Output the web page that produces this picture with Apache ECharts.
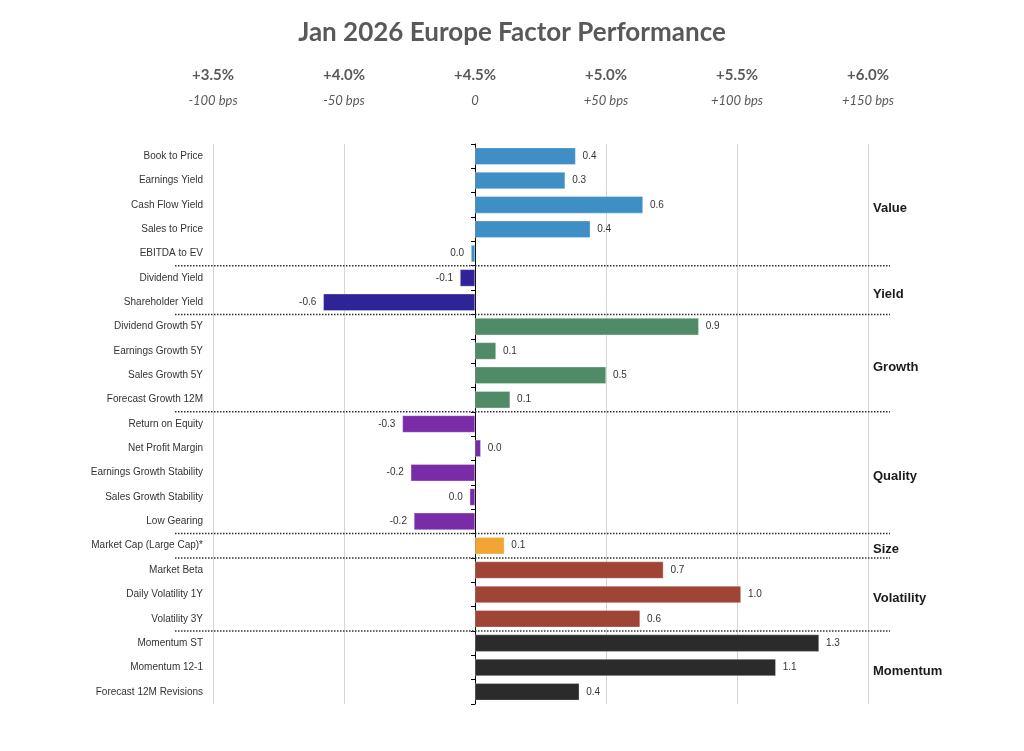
<!DOCTYPE html>
<html>
<head>
<meta charset="utf-8">
<script src="https://cdn.jsdelivr.net/npm/echarts@6/dist/echarts.min.js"></script>
<style>html,body{margin:0;padding:0;background:#fff;}#chart{width:1024px;height:751px;}</style>
</head>
<body>
<div id="chart"></div>
<script>
var categories = ["Book to Price","Earnings Yield","Cash Flow Yield","Sales to Price","EBITDA to EV",
  "Dividend Yield","Shareholder Yield",
  "Dividend Growth 5Y","Earnings Growth 5Y","Sales Growth 5Y","Forecast Growth 12M",
  "Return on Equity","Net Profit Margin","Earnings Growth Stability","Sales Growth Stability","Low Gearing",
  "Market Cap (Large Cap)*",
  "Market Beta","Daily Volatility 1Y","Volatility 3Y",
  "Momentum ST","Momentum 12-1","Forecast 12M Revisions"];
var values = [0.384, 0.344, 0.641, 0.44, -0.015,
  -0.057, -0.579,
  0.854, 0.08, 0.50, 0.134,
  -0.277, 0.022, -0.245, -0.02, -0.233,
  0.112,
  0.719, 1.015, 0.63,
  1.313, 1.148, 0.398];
var groupNames = ["Value","Yield","Growth","Quality","Size","Volatility","Momentum"];
var groupSizes = [5, 2, 4, 5, 1, 3, 3];
var groupColors = ["#3F8EC6","#2E2498","#4F8B66","#7A2BA8","#F0A534","#A04536","#2B2B2B"];
var rateLabels = ["+3.5%","+4.0%","+4.5%","+5.0%","+5.5%","+6.0%"];
var bpsLabels = ["-100 bps","-50 bps","0","+50 bps","+100 bps","+150 bps"];
var tickValues = [-1.0, -0.5, 0, 0.5, 1.0, 1.5];

var colorOf = [];
groupSizes.forEach(function (n, g) { for (var i = 0; i < n; i++) colorOf.push(groupColors[g]); });

function fmt(v) { var r = Math.round(v * 10) / 10; if (r === 0) r = 0; return r.toFixed(1); }

var barData = values.map(function (v, i) {
  return { value: v, itemStyle: { color: colorOf[i] },
    label: { position: v < 0 ? 'left' : 'right' } };
});

var chart = echarts.init(document.getElementById('chart'), null, { renderer: 'canvas' });
var option = {
  animation: false,
  backgroundColor: '#fff',
  title: {
    text: 'Jan 2026 Europe Factor Performance', left: 'center', top: 15,
    textStyle: { fontFamily: 'Lato', fontWeight: 'bold', fontSize: 26, color: '#595959' }
  },
  grid: { left: 213, right: 156, top: 144, bottom: 47, containLabel: false },
  xAxis: [{
    type: 'value', min: -1, max: 1.5, interval: 0.5, position: 'bottom',
    axisLine: { show: false }, axisTick: { show: false }, axisLabel: { show: false },
    splitLine: { show: true, lineStyle: { color: '#d4d4d4', width: 1 } }
  }, {
    type: 'value', min: -1, max: 1.5, interval: 0.5, position: 'top',
    axisLine: { show: false }, axisTick: { show: false }, splitLine: { show: false },
    axisLabel: {
      show: true, margin: 30,
      formatter: function (v) {
        var k = tickValues.findIndex(function (t) { return Math.abs(t - v) < 1e-6; });
        if (k < 0) return '';
        return '{a|' + rateLabels[k] + '}\n{b|' + bpsLabels[k] + '}';
      },
      rich: {
        a: { fontFamily: 'Lato', fontWeight: 'bold', fontSize: 15, color: '#595959', lineHeight: 26, align: 'center' },
        b: { fontFamily: 'Lato', fontStyle: 'italic', fontSize: 13, color: '#595959', lineHeight: 26, align: 'center' }
      }
    }
  }],
  yAxis: [{
    type: 'category', data: categories, inverse: true,
    axisLine: { show: true, onZero: true, lineStyle: { color: '#000', width: 1 } },
    axisTick: { show: true, length: 4, lineStyle: { color: '#000' } },
    axisLabel: { show: false }, splitLine: { show: false }
  }, {
    type: 'category', data: categories, inverse: true, position: 'left',
    axisLine: { show: false, onZero: false }, axisTick: { show: false },
    axisLabel: { show: true, margin: 10, fontFamily: 'Liberation Sans, Arial', fontSize: 10, color: '#333' },
    splitLine: { show: false }
  }],
  series: [{
    type: 'bar', data: barData, xAxisIndex: 0, yAxisIndex: 0, barWidth: '70%',
    itemStyle: { borderColor: 'rgba(255,255,255,0.6)', borderWidth: 0.5 },
    label: { show: true, distance: 7, fontFamily: 'Liberation Sans, Arial', fontSize: 10, color: '#333',
      formatter: function (p) { return fmt(p.value); } }
  }]
};
chart.setOption(option);

// group separators and group labels, positioned through the axis scales
var gfx = [];
var xLeft = chart.convertToPixel({ xAxisIndex: 0 }, -1) - 38;
var xRight = chart.convertToPixel({ xAxisIndex: 0 }, 1.5) + 22;
var xLabel = chart.convertToPixel({ xAxisIndex: 0 }, 1.5) + 5;
var start = 0;
groupSizes.forEach(function (n, g) {
  var first = chart.convertToPixel({ yAxisIndex: 0 }, start);
  var last = chart.convertToPixel({ yAxisIndex: 0 }, start + n - 1);
  var band = n > 1 ? (last - first) / (n - 1) : (chart.convertToPixel({ yAxisIndex: 0 }, 1) - chart.convertToPixel({ yAxisIndex: 0 }, 0));
  gfx.push({ type: 'text', x: xLabel, y: (first + last) / 2 + 4, style: {
    text: groupNames[g], fontFamily: 'Liberation Sans, Arial', fontWeight: 'bold', fontSize: 13,
    fill: '#1a1a1a', verticalAlign: 'middle', align: 'left' } });
  if (g < groupSizes.length - 1) {
    var yb = last + band / 2;
    gfx.push({ type: 'line', shape: { x1: xLeft, y1: yb, x2: xRight, y2: yb },
      style: { stroke: '#333', lineWidth: 1.5, lineDash: [1.5, 1.5] }, z: 10 });
  }
  start += n;
});
chart.setOption({ graphic: gfx });
</script>
</body>
</html>
